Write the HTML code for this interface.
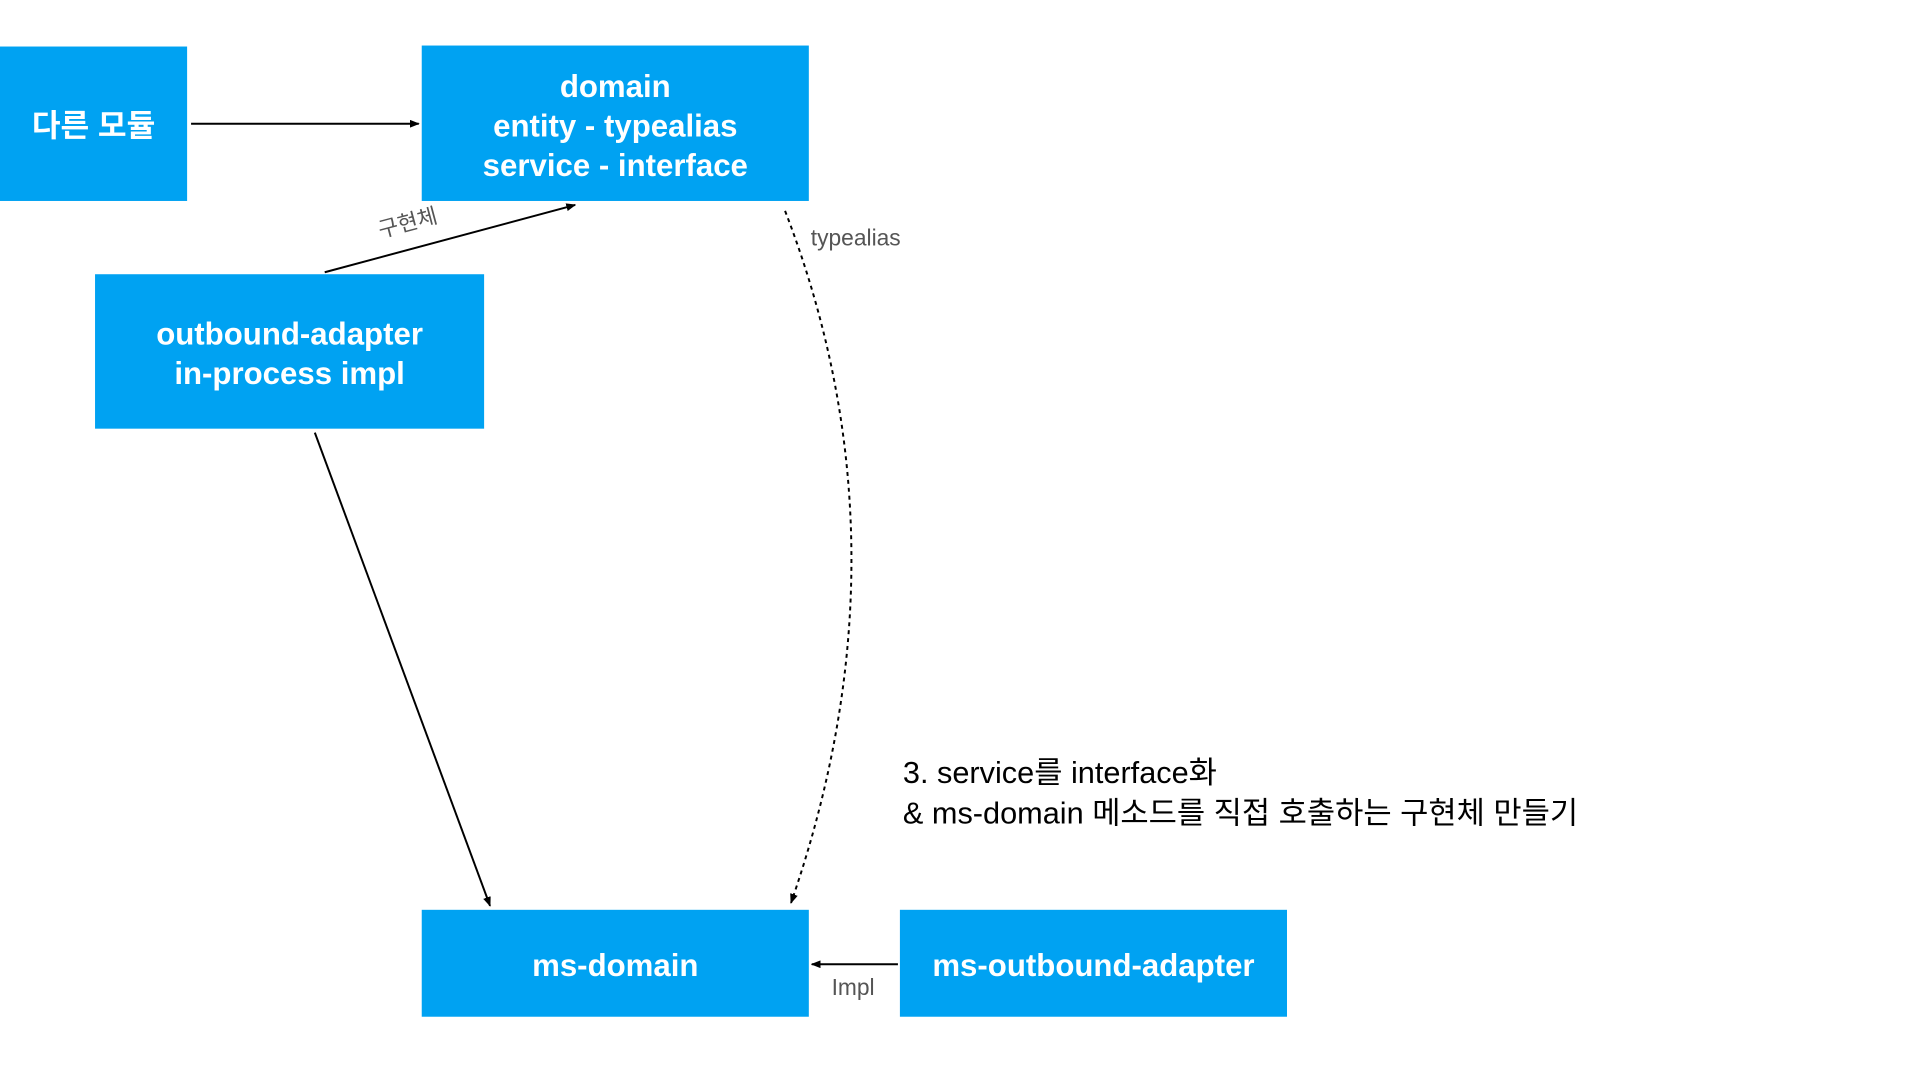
<!DOCTYPE html>
<html><head><meta charset="utf-8"><style>
html,body{margin:0;padding:0;background:#fff;width:1920px;height:1080px;overflow:hidden;position:relative;font-family:"Liberation Sans","Noto Sans CJK KR",sans-serif}
#w{position:absolute;left:0;top:0;width:1920px;height:1080px;transform:scale(0.99);transform-origin:0 0}
.b{position:absolute;background:#00a2f2;color:#fff;display:flex;align-items:center;justify-content:center;text-align:center;font-size:31.5px;font-weight:bold;line-height:40px;padding-top:4px;box-sizing:border-box}
.t{position:absolute;white-space:nowrap}
</style></head><body><div id="w">
<div class="b" style="left:0;top:47px;width:189px;height:156px">다른 모듈</div>
<div class="b" style="left:426px;top:46px;width:391px;height:157px">domain<br>entity - typealias<br>service - interface</div>
<div class="b" style="left:96px;top:277px;width:393px;height:156px">outbound-adapter<br>in-process impl</div>
<div class="b" style="left:426px;top:919px;width:391px;height:108px">ms-domain</div>
<div class="b" style="left:909px;top:919px;width:391px;height:108px">ms-outbound-adapter</div>
<svg width="1920" height="1080" style="position:absolute;left:0;top:0">
<defs><marker id="a" markerWidth="10" markerHeight="8" refX="9" refY="4" orient="auto" markerUnits="userSpaceOnUse"><path d="M0,0 L10,4 L0,8 z" fill="#000"/></marker></defs>
<g stroke="#000" stroke-width="2" fill="none">
<line x1="193" y1="125" x2="423" y2="125" marker-end="url(#a)"/>
<line x1="328" y1="275" x2="581" y2="207" marker-end="url(#a)"/>
<line x1="318" y1="437" x2="495" y2="915" marker-end="url(#a)"/>
<line x1="907" y1="974" x2="820" y2="974" marker-end="url(#a)"/>
<path d="M793,213 Q924,552 799,912" stroke-dasharray="4,4" marker-end="url(#a)"/>
</g>
</svg>
<div class="t" style="left:378px;top:216px;font-size:22px;color:#555;transform:rotate(-15deg);transform-origin:left top">구현체</div>
<div class="t" style="left:819px;top:227px;font-size:23px;color:#555">typealias</div>
<div class="t" style="left:840px;top:984px;font-size:23px;color:#555">Impl</div>
<div class="t" style="left:912px;top:760px;font-size:31px;color:#000;line-height:41px">3. service를 interface화<br>&amp; ms-domain 메소드를 직접 호출하는 구현체 만들기</div>
</div></body></html>
